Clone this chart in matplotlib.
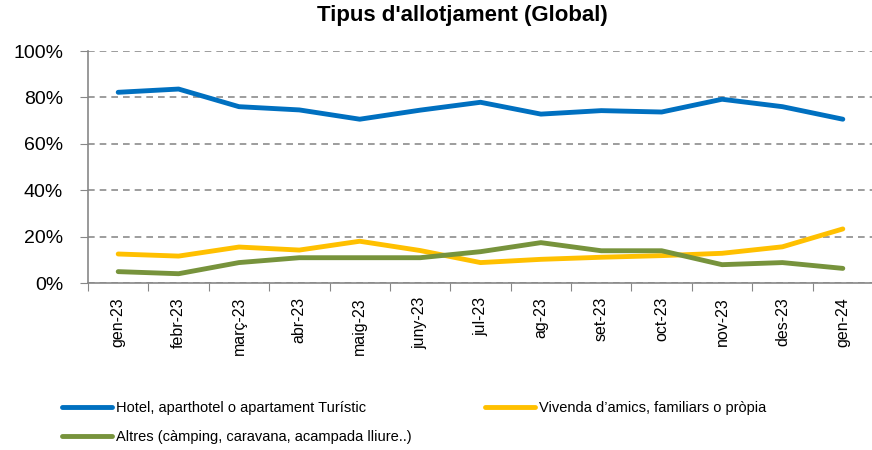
import matplotlib.pyplot as plt
from matplotlib.ticker import FuncFormatter

months = ['gen-23', 'febr-23', 'març-23', 'abr-23', 'maig-23', 'juny-23', 'jul-23',
          'ag-23', 'set-23', 'oct-23', 'nov-23', 'des-23', 'gen-24']

hotel = [82.2, 83.6, 76.0, 74.6, 70.6, 74.5, 77.9, 72.8, 74.3, 73.7, 79.2, 76.0, 70.6]
vivenda = [12.5, 11.6, 15.5, 14.2, 18.0, 14.0, 8.8, 10.2, 11.1, 11.8, 12.8, 15.6, 23.3]
altres = [4.9, 4.0, 8.8, 10.9, 10.9, 10.9, 13.5, 17.4, 13.9, 13.9, 7.9, 8.8, 6.3]

labels = ['Hotel, aparthotel o apartament Turístic',
          'Vivenda d’amics, familiars o pròpia',
          'Altres (càmping, caravana, acampada lliure..)']
colors = ['#0070C0', '#FFC000', '#77933C']

plt.rcParams['font.family'] = ['Liberation Sans', 'DejaVu Sans']

fig = plt.figure(figsize=(8.72, 4.5), dpi=100)
ax = fig.add_axes([88 / 872, 167 / 450, 785 / 872, 232 / 450])

x = list(range(len(months)))
lines = []
for vals, c in zip([hotel, vivenda, altres], colors):
    l, = ax.plot(x, vals, color=c, linewidth=3.5, solid_capstyle='round')
    lines.append(l)

ax.set_ylim(0, 100)
ax.set_xlim(-0.5, len(months) - 0.5)
ax.set_yticks([0, 20, 40, 60, 80, 100])
ax.yaxis.set_major_formatter(FuncFormatter(lambda v, p: '%d%%' % v))
ax.yaxis.grid(True, linestyle=(0, (4, 3)), color='#8c8c8c', linewidth=1.2)
ax.set_axisbelow(True)

# ticks between categories, labels at centres
ax.set_xticks([i - 0.5 for i in range(len(months) + 1)])
ax.set_xticklabels([])
ax.set_xticks(x, minor=True)
ax.set_xticklabels(months, minor=True, rotation=90, fontsize=11.5)
ax.tick_params(axis='x', which='minor', length=0, pad=10)
ax.tick_params(axis='x', which='major', length=6, color='#878787', direction='out')
ax.tick_params(axis='y', length=6, color='#878787', labelsize=14, pad=12)

for s in ['top', 'right']:
    ax.spines[s].set_visible(False)
for s in ['left', 'bottom']:
    ax.spines[s].set_color('#878787')
    ax.spines[s].set_linewidth(1.2)

fig.suptitle("Tipus d'allotjament (Global)", x=0.53, y=0.99, fontsize=16, fontweight='bold')

positions = [(55 / 872, 1 - 408 / 450), (478 / 872, 1 - 408 / 450), (55 / 872, 1 - 437 / 450)]
for l, lab, pos in zip(lines, labels, positions):
    fig.legend([l], [lab], loc='center left', bbox_to_anchor=pos, frameon=False,
               fontsize=10.5, handlelength=3.4, handletextpad=0.25, borderpad=0)

fig.savefig('out.png', dpi=100)
plt.close()
